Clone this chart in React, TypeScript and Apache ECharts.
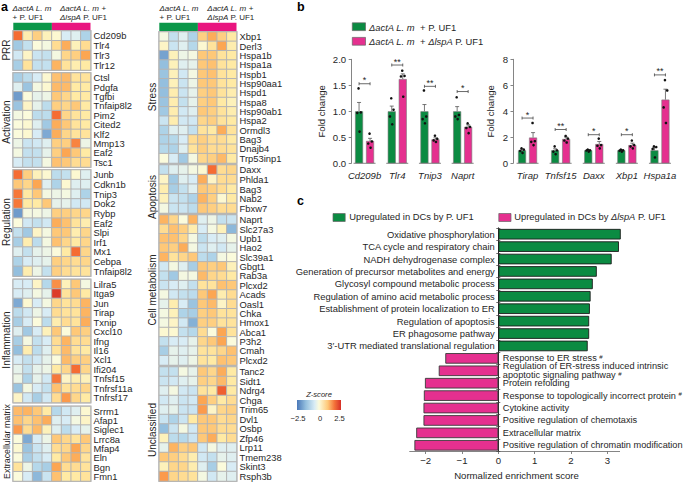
import React, { useEffect, useRef } from "react";
import * as echarts from "echarts";

const FONT = "Liberation Sans";
const GREEN = "#0b8b42";
const PINK = "#e5308f";
const TEXT = "#262626";

const prrGenes = ["Cd209b", "Tlr4", "Tlr3", "Tlr12"];
const prrValues = [
  [2.0, 0.4, 0.9, 0.3, 0.1, -0.5, -0.4, -1.1],
  [-1.3, -0.8, 0, -0.1, 0.7, 1.4, 0.3, 0.7],
  [-0.6, 0.2, -0.7, -0.8, -0.1, 0.8, 0.9, 1.5],
  [-1.2, 0.6, -0.8, -0.8, 1.3, 0.6, 0.4, 0.5],
];
const activationGenes = ["Ctsl", "Pdgfa", "Tgfbi", "Tnfaip8l2", "Pim2", "Cited2", "Klf2", "Mmp13", "Eaf2", "Tsc1"];
const activationValues = [
  [-1.2, -0.9, -0.5, 0.1, 1.1, 1.2, 0.6, 0.6],
  [-0.4, -1.4, -0.1, 0.1, 1.2, 1.2, 0.5, 0.5],
  [-2.0, 0, -0.3, -0.2, 1.0, 0.8, 0.5, 0.5],
  [-1.4, 0.2, -0.3, -0.9, 0.9, 0.8, 1.0, 0.5],
  [-0.1, 0, -0.9, -0.9, 2.0, 0.8, 0.6, 0.5],
  [0, 0.1, -0.4, -1.3, 1.4, 1.0, 0.6, 0.5],
  [0, 0.1, -0.5, -1.8, 1.4, 0.8, 0.6, 0.6],
  [-0.2, -0.7, -0.6, -0.4, 0.9, 0.9, 1.8, -0.2],
  [-0.1, -0.8, -0.8, -0.3, 0.9, 1.5, 1.0, 0.5],
  [-0.5, -0.8, -0.8, -0.1, 1.1, 1.0, 0.7, 0.7],
];
const regulationGenes = ["Junb", "Cdkn1b", "Tnip3", "Dok2", "Rybp", "Eaf2", "Slpi", "Irf1", "Mx1", "Cebpa", "Tnfaip8l2"];
const regulationValues = [
  [2.0, 0.9, 0.3, 0.1, -0.9, -0.8, 0.1, -0.4],
  [1.0, 0.8, 1.5, -0.4, -1.1, 0.1, -0.4, -0.4],
  [1.9, 0.5, 1.0, -0.1, -0.2, -0.1, -0.4, -1.1],
  [1.9, 0.5, 0.5, 1.0, -0.3, -0.3, -0.6, -0.6],
  [-2.0, -0.1, -0.1, -0.2, 0.9, 0.9, 0.8, 0.8],
  [0, -0.6, -0.8, -0.6, 1.4, 1.1, 0.6, 0.4],
  [-0.8, -1.3, 0.2, -0.1, 1.0, 1.0, 0.4, 0.8],
  [-1.2, 0.4, -0.9, -0.1, 1.1, 0.8, 0.5, 0.8],
  [-0.4, -0.8, -0.3, -0.2, 0, 0.5, 2.0, 0.8],
  [-1.1, -0.5, -0.4, -0.3, 0.9, 0.8, 0.7, 0.8],
  [-1.5, 0.4, -0.2, -0.8, 0.9, 0.7, 0.6, 0.6],
];
const inflammationGenes = ["Lilra5", "Itga9", "Jun", "Tirap", "Txnip", "Cxcl10", "Ifng", "Il16", "Xcl1", "Ifi204", "Tnfsf15", "Tnfrsf11a", "Tnfrsf17"];
const inflammationValues = [
  [-0.5, -0.5, 0.2, -1.0, 1.7, 0.3, 1.0, -0.1],
  [-0.5, -0.4, -0.1, -0.3, 2.4, 0.6, 1.0, 0.5],
  [-1.8, 0.1, -0.5, -0.1, 0.8, 0.6, 0.7, 1.3],
  [-0.9, -0.6, -0.2, -0.5, 0.7, 0.6, 0.6, 1.3],
  [-1.2, -0.5, 0, -0.9, 0.4, 0.7, 0.6, 1.4],
  [-0.4, -1.3, -0.5, 0.3, 1.0, 0, 1.0, 0.9],
  [-1.2, -0.1, -0.8, -0.5, 0.7, 1.3, 0.7, 0.7],
  [-1.5, 0.4, -0.9, -0.4, 0.6, 1.2, 0.6, 0.5],
  [-0.5, -0.8, -0.6, -0.3, 0, 1.2, 0.9, 0.9],
  [-0.3, -0.8, -0.3, -0.2, 0.5, 0.8, 2.0, 0.8],
  [-0.2, -1.1, -0.3, -0.6, 1.9, 0.2, 0.4, 0.3],
  [-1.4, -0.1, -0.5, -0.8, 1.1, 0.6, 0.7, 0.8],
  [0.2, -0.6, -1.2, -0.6, 0.7, 1.6, 0.8, 0.5],
];
const matrixGenes = ["Srrm1", "Afap1", "Siglec1", "Lrrc8a", "Mfap4", "Eln", "Bgn", "Fmn1"];
const matrixValues = [
  [1.2, 1.3, 1.0, 0.5, -1.0, -0.6, -0.4, 0.1],
  [1.1, 0.8, 1.1, 1.4, -0.4, -0.5, -0.1, 0.2],
  [1.6, 0.7, 1.2, 0.3, -0.4, -0.9, -0.5, -0.3],
  [0, -1.8, -0.5, -0.2, 1.0, 0.8, 0.6, 1.0],
  [0.1, -1.4, -0.7, -0.4, 0.7, 0.8, 1.5, 0.8],
  [0, -1.2, -0.8, -0.5, 0.5, 1.0, 1.4, 0.6],
  [0.6, -0.2, -1.0, -1.2, 1.5, 0.7, 0.7, 0.6],
  [0, -0.5, -1.6, -0.7, 1.1, 0.5, 0.5, 0.6],
];
const stressGenes = ["Xbp1", "Derl3", "Hspa1b", "Hspa1a", "Hspb1", "Hsp90aa1", "Hspd1", "Hspa8", "Hsp90ab1", "Hspa2", "Ormdl3", "Bag3", "Dnajb4", "Trp53inp1"];
const stressValues = [
  [-0.1, -0.8, -0.4, -1.1, 0.9, 1.4, 0.9, 0.5],
  [0.2, -0.7, -0.4, -1.0, 0.1, 0.6, 1.5, 0.4],
  [-1.9, 0.3, -0.2, -0.1, 1.0, 1.0, 0.6, 0.5],
  [-1.5, 0.3, -0.4, -0.3, 1.0, 1.1, 0.6, 0.5],
  [-1.4, 0.3, -0.6, -0.1, 1.0, 1.1, 0.6, 0.5],
  [-1.5, 0.3, -0.7, -0.2, 1.0, 1.0, 0.6, 0.5],
  [-1.5, 0.4, -0.7, -0.3, 0.9, 1.0, 0.6, 0.4],
  [-1.4, 0.4, -0.8, -0.3, 0.9, 1.0, 0.5, 0.3],
  [-1.3, 0.4, -0.6, -0.4, 1.0, 0.9, 0.6, 0.4],
  [-0.7, 0.4, -0.6, -0.6, 0.8, 0.9, 0.6, 0.5],
  [-1.1, -0.4, -0.4, -0.8, 0.6, 0.5, 1.4, 0.6],
  [-1.1, -1.0, -0.5, 0.7, 0.9, 0.7, 0.7, 0.5],
  [-1.0, -1.1, -0.4, 0.6, 0.9, 0.7, 0.7, 0.6],
  [0, -0.5, -1.3, -0.1, 0.8, 0.9, 1.2, 0.5],
];
const apoptosisGenes = ["Daxx", "Phlda1", "Bag3", "Nab2", "Fbxw7"];
const apoptosisValues = [
  [-0.8, -0.4, -0.3, -0.1, 0.1, 2.0, 0.7, 0.8],
  [0.2, -1.3, -0.4, -0.5, 1.4, 0.2, 0.7, 0.7],
  [0.4, -1.2, -0.8, -0.4, 1.0, 0.9, 0.7, 0.5],
  [0.3, -0.7, -0.8, -1.1, 1.3, 0.9, 0.1, 0.5],
  [-0.1, -0.7, -0.7, -0.9, 1.0, 0.9, 0.7, 0.7],
];
const metabolismGenes = ["Naprt", "Slc27a3", "Upb1", "Hao2", "Slc39a1", "Gbgt1", "Rab3a", "Plcxd2", "Acads", "Oasl1", "Chka", "Hmox1", "Abca1", "P3h2", "Cmah", "Plcxd2"];
const metabolismValues = [
  [1.3, 0.8, 0, 1.3, -0.4, -0.2, -0.8, -0.7],
  [0.7, 1.1, 0.9, 0.4, -0.5, -0.1, 0.3, -1.6],
  [1.1, 1.1, 0.8, -0.1, -0.9, -0.5, -0.4, -0.1],
  [1.0, 0.9, 1.4, -0.1, -0.7, -0.4, -0.6, -0.3],
  [1.3, 0.6, 0.8, 1.0, -0.9, -1.1, -0.1, 0],
  [-0.6, -0.1, -0.4, -1.2, 1.0, 0.9, 1.0, 0.3],
  [-0.8, -1.3, -0.1, -0.1, 1.2, 0.8, 0.7, 0.5],
  [-0.7, -0.5, -0.4, -0.8, 0.6, 0.6, 1.1, 1.0],
  [-0.1, -0.6, -0.8, -0.9, 1.0, 1.5, 0.4, 0.7],
  [-0.3, 0.4, -0.5, -1.4, 1.0, 1.2, 0.2, 0.7],
  [-0.1, 0.3, -1.1, -1.2, 0.9, 1.0, 0.6, 0.6],
  [-0.1, 0.2, -0.6, -1.7, 0.9, 0.9, 0.6, 0.6],
  [0.1, 0.1, -0.8, -1.0, 0.7, 0, 1.5, 0.6],
  [-0.8, -0.5, -0.5, -0.3, 0.8, 1.0, 1.5, 0],
  [-1.2, -0.3, -0.4, -0.3, 0.6, 0.6, 0.8, 1.1],
  [-0.5, -0.3, -0.4, -0.2, 0.6, 0.5, 1.1, 1.0],
];
const unclassifiedGenes = ["Tanc2", "Sidt1", "Ndrg4", "Chga", "Trim65", "Dvl1", "Osbp", "Zfp46", "Lrp11", "Tmem238", "Skint3", "Rsph3b"];
const unclassifiedValues = [
  [-0.8, -0.8, -0.1, -0.3, 1.0, 0.8, 1.4, 0.5],
  [-0.7, -0.6, -0.4, -0.3, 0.9, 0.8, 1.2, 0.5],
  [-0.4, -0.1, -0.6, -0.7, 0.6, 0.5, 2.1, 0.5],
  [-0.6, -0.4, -0.7, -0.6, 1.5, 0.9, 0.5, 0.7],
  [-0.4, -0.3, -0.7, -0.7, 1.6, 0.2, 0.8, 0.9],
  [-0.7, -1.1, -0.7, 0.5, 1.0, 1.0, 0.7, 0.8],
  [-1.5, -0.7, -0.1, -0.6, 1.0, 1.0, 0.7, 0.7],
  [0.3, -0.9, -1.0, -0.7, 1.0, 1.4, 0.5, 0.7],
  [-0.3, 1.3, 0.9, 1.0, -0.6, -0.1, -0.4, -0.4],
  [1.0, 0.9, 0.7, 0.4, -0.6, -0.8, -0.3, -0.4],
  [0.3, 0.8, 0.8, 0.4, -0.4, -1.2, 0, -0.5],
  [1.6, 0.8, 0.7, 0.6, -0.1, -0.6, -0.3, -0.4],
];

const leftGenes = ["Cd209b", "Tlr4", "Tnip3", "Naprt"];
const leftGreenMeans = [1.0, 1.0, 1.0, 1.0];
const leftPinkMeans = [0.43, 1.62, 0.46, 0.7];
const leftGreenErr = [0.17, 0.1, 0.13, 0.09];
const leftPinkErr = [0.05, 0.1, 0.03, 0.04];
const leftGreenDots = [[1.44, 0.98, 0.97, 0.61], [1.25, 1.03, 0.9, 0.75], [1.4, 0.9, 0.85, 0.77], [1.27, 0.93, 0.9, 0.85]];
const leftPinkDots = [[0.57, 0.42, 0.38, 0.3], [1.78, 1.68, 1.67, 1.28], [0.53, 0.47, 0.44, 0.41], [0.77, 0.7, 0.68, 0.58]];
const leftBrackets = [1.53, 1.89, 1.48, 1.38];
const leftStars = ["*", "**", "**", "*"];

const rightGenes = ["Tirap", "Tnfsf15", "Daxx", "Xbp1", "Hspa1a"];
const rightGreenMeans = [1.0, 1.0, 1.0, 1.0, 1.0];
const rightPinkMeans = [1.98, 1.87, 1.48, 1.4, 4.9];
const rightGreenErr = [0.1, 0.12, 0.05, 0.05, 0.2];
const rightPinkErr = [0.38, 0.15, 0.2, 0.15, 0.8];
const rightGreenDots = [[1.15, 1.05, 0.95, 0.8], [1.3, 1.0, 0.9, 0.7], [1.05, 1.0, 0.98, 0.9], [1.05, 1.0, 0.97, 0.9], [1.3, 1.25, 1.1, 0.45]];
const rightPinkDots = [[3.1, 1.7, 1.65, 1.4], [2.1, 1.9, 1.75, 1.6], [1.9, 1.4, 1.35, 1.15], [1.75, 1.4, 1.3, 1.15], [6.4, 5.6, 4.3, 3.1]];
const rightBrackets = [3.48, 2.6, 2.2, 2.2, 6.8];
const rightStars = ["*", "**", "*", "*", "**"];

const upTerms = [
  "Oxidative phosphorylation",
  "TCA cycle and respiratory chain",
  "NADH dehydrogenase complex",
  "Generation of precursor metabolites and energy",
  "Glycosyl compound metabolic process",
  "Regulation of amino acid metabolic process",
  "Establishment of protein localization to ER",
  "Regulation of apoptosis",
  "ER phagosome pathway",
  "3′-UTR mediated translational regulation",
];
const upScores = [3.37, 3.32, 3.12, 2.71, 2.6, 2.54, 2.52, 2.5, 2.5, 2.46];
const downTerms = [
  "Response to ER stress #",
  "Regulation of ER-stress induced intrinsic\napoptotic signaling pathway #",
  "Protein refolding",
  "Response to topologically incorrect protein #",
  "Cytokine activity",
  "Positive regulation of chemotaxis",
  "Extracellular matrix",
  "Positive regulation of chromatin modification",
];
const downScores = [-1.46, -1.64, -2.02, -2.05, -2.06, -2.06, -2.26, -2.31];
const nesTicks = [-2, -1, 0, 1, 2, 3];

const heatBlocks = [
  { genes: prrGenes, values: prrValues, left: 13.3, top: 31, bottom: 70 },
  { genes: activationGenes, values: activationValues, left: 13.3, top: 73, bottom: 167 },
  { genes: regulationGenes, values: regulationValues, left: 13.3, top: 170, bottom: 276 },
  { genes: inflammationGenes, values: inflammationValues, left: 13.3, top: 279.5, bottom: 402.5 },
  { genes: matrixGenes, values: matrixValues, left: 13.3, top: 406.5, bottom: 481 },
  { genes: stressGenes, values: stressValues, left: 159.3, top: 32, bottom: 163 },
  { genes: apoptosisGenes, values: apoptosisValues, left: 159.3, top: 165, bottom: 213 },
  { genes: metabolismGenes, values: metabolismValues, left: 159.3, top: 215, bottom: 365 },
  { genes: unclassifiedGenes, values: unclassifiedValues, left: 159.3, top: 367, bottom: 481 },
];

const sideLabels = [
  ["PRR", 6.5, 50, 10], ["Activation", 6.5, 122, 10], ["Regulation", 6.5, 222, 10], ["Inflammation", 6.5, 340, 10], ["Extracellular matrix", 6.5, 441.5, 8.8],
  ["Stress", 152.5, 97, 10], ["Apoptosis", 152.5, 197, 10], ["Cell metabolism", 152.5, 290, 10], ["Unclassified", 152.5, 430, 10],
];

function buildOption() {
  const grids: any[] = [];
  const xAxes: any[] = [];
  const yAxes: any[] = [];
  const series: any[] = [];
  const heatIdx: number[] = [];

  heatBlocks.forEach((b, i) => {
    grids.push({ outerBoundsMode: "none", show: true, borderColor: "#b4b4b4", borderWidth: 2, left: b.left, top: b.top, width: 77.2, height: b.bottom - b.top });
    xAxes.push({ type: "category", gridIndex: i, data: [0, 1, 2, 3, 4, 5, 6, 7], show: false });
    yAxes.push({
      type: "category", gridIndex: i, data: b.genes, inverse: true, position: "right",
      axisLine: { show: false }, axisTick: { show: false },
      axisLabel: { interval: 0, margin: 3, fontFamily: FONT, fontSize: 9.4, color: TEXT },
    });
    const data: number[][] = [];
    b.values.forEach((row, r) => row.forEach((v, c) => data.push([c, r, v])));
    heatIdx.push(series.length);
    series.push({
      type: "heatmap", xAxisIndex: i, yAxisIndex: i, data,
      itemStyle: { borderColor: "#b4b4b4", borderWidth: 1 },
      emphasis: { disabled: true },
    });
  });

  const addPanel = (
    left: number, width: number, axisOffset: number, genes: string[], max: number, interval: number,
    nameGap: number, gm: number[], pm: number[], ge: number[], pe: number[],
    gd: number[][], pd: number[][], br: number[], st: string[],
  ) => {
    const idx = grids.length;
    grids.push({ outerBoundsMode: "none", left, top: 59.3, width, height: 104 });
    xAxes.push({
      type: "category", gridIndex: idx, data: genes,
      axisLine: { show: false }, axisTick: { show: false },
      axisLabel: { interval: 0, margin: 7, fontFamily: FONT, fontSize: 9.5, fontStyle: "italic", color: TEXT },
    });
    yAxes.push({
      type: "value", gridIndex: idx, min: 0, max, interval, offset: axisOffset,
      name: "Fold change", nameLocation: "middle", nameGap, nameTextStyle: { fontFamily: FONT, fontSize: 9.5, color: TEXT },
      splitLine: { show: false },
      axisLine: { show: true, lineStyle: { color: "#666", width: 0.8 } },
      axisTick: { show: true, length: 2.5, lineStyle: { color: "#666", width: 0.8 } },
      axisLabel: { margin: 5, fontFamily: FONT, fontSize: 9.6, color: TEXT, formatter: (v: number) => (interval < 1 ? v.toFixed(1) : String(v)) },
    });
    const barStyle = { borderColor: "#777", borderWidth: 0.6 };
    series.push(
      { type: "bar", xAxisIndex: idx, yAxisIndex: idx, data: gm, barWidth: 8, barGap: "37.5%", itemStyle: { color: GREEN, ...barStyle } },
      { type: "bar", xAxisIndex: idx, yAxisIndex: idx, data: pm, barWidth: 8, barGap: "37.5%", itemStyle: { color: PINK, ...barStyle } },
    );
    const errData: number[][] = [];
    gm.forEach((m, i) => { errData.push([i, -1, m, ge[i]]); errData.push([i, 1, pm[i], pe[i]]); });
    series.push({
      type: "custom", xAxisIndex: idx, yAxisIndex: idx, data: errData, encode: { x: 0, y: 2 }, silent: true, z: 3,
      renderItem: (_p: any, api: any) => {
        const c = api.coord([api.value(0), api.value(2)]);
        const t = api.coord([api.value(0), api.value(2) + api.value(3)]);
        const x = c[0] + api.value(1) * 5.5;
        const stroke = { stroke: "#555", lineWidth: 0.8 };
        return {
          type: "group",
          children: [
            { type: "line", shape: { x1: x, y1: c[1], x2: x, y2: t[1] }, style: stroke },
            { type: "line", shape: { x1: x - 2, y1: t[1], x2: x + 2, y2: t[1] }, style: stroke },
          ],
        };
      },
    });
    const dotData: number[][] = [];
    gd.forEach((vals, i) => vals.forEach((v, k) => dotData.push([i, -1, v, k])));
    pd.forEach((vals, i) => vals.forEach((v, k) => dotData.push([i, 1, v, k])));
    const jitter = [-0.5, 1.8, -1.8, 0.5];
    series.push({
      type: "custom", xAxisIndex: idx, yAxisIndex: idx, data: dotData, encode: { x: 0, y: 2 }, silent: true, z: 4,
      renderItem: (_p: any, api: any) => {
        const c = api.coord([api.value(0), api.value(2)]);
        return {
          type: "circle",
          shape: { cx: c[0] + api.value(1) * 5.5 + jitter[api.value(3)], cy: c[1], r: 1.3 },
          style: { fill: "#111" },
        };
      },
    });
    series.push({
      type: "custom", xAxisIndex: idx, yAxisIndex: idx, data: br.map((v, i) => [i, v]), encode: { x: 0, y: 1 }, silent: true, z: 4,
      renderItem: (p: any, api: any) => {
        const c = api.coord([api.value(0), api.value(1)]);
        const stroke = { stroke: "#444", lineWidth: 0.8 };
        return {
          type: "group",
          children: [
            { type: "line", shape: { x1: c[0] - 5.5, y1: c[1], x2: c[0] + 5.5, y2: c[1] }, style: stroke },
            { type: "line", shape: { x1: c[0] - 5.5, y1: c[1] - 1.5, x2: c[0] - 5.5, y2: c[1] + 1.5 }, style: stroke },
            { type: "line", shape: { x1: c[0] + 5.5, y1: c[1] - 1.5, x2: c[0] + 5.5, y2: c[1] + 1.5 }, style: stroke },
            { type: "text", style: { text: st[p.dataIndex], x: c[0], y: c[1] - 3.5, fill: TEXT, align: "center", verticalAlign: "middle", font: `9px ${FONT}` } },
          ],
        };
      },
    });
    series.push({
      type: "custom", xAxisIndex: idx, yAxisIndex: idx, data: genes.map((_, i) => [i, 0]), encode: { x: 0, y: 1 }, silent: true, z: 2,
      renderItem: (_p: any, api: any) => {
        const c = api.coord([api.value(0), 0]);
        return { type: "line", shape: { x1: c[0] - 11, y1: c[1], x2: c[0] + 11, y2: c[1] }, style: { stroke: "#666", lineWidth: 0.8 } };
      },
    });
  };

  addPanel(348.2, 130.8, -3, leftGenes, 2, 0.5, 25, leftGreenMeans, leftPinkMeans, leftGreenErr, leftPinkErr, leftGreenDots, leftPinkDots, leftBrackets, leftStars);
  addPanel(511, 165.5, -2, rightGenes, 8, 2, 18, rightGreenMeans, rightPinkMeans, rightGreenErr, rightPinkErr, rightGreenDots, rightPinkDots, rightBrackets, rightStars);

  // Panel c: zero at x = 498.3, 36.33 px per unit
  const ci = grids.length;
  const allTerms = [...upTerms, ...downTerms];
  grids.push({ outerBoundsMode: "none", left: 407.5, top: 228, width: 218, height: 223.5 });
  xAxes.push({
    type: "value", gridIndex: ci, min: -2.5, max: 3.5,
    name: "Normalized enrichment score", nameLocation: "middle", nameGap: 19,
    nameTextStyle: { fontFamily: FONT, fontSize: 9.6, color: TEXT },
    splitLine: { show: false },
    axisLine: { show: false, onZero: false },
    axisTick: { show: true, length: 2.5, customValues: nesTicks, lineStyle: { color: "#666", width: 0.8 } },
    axisLabel: {
      customValues: nesTicks, margin: 4, fontFamily: FONT, fontSize: 9.6, color: TEXT,
      formatter: (v: number) => String(v).replace("-", "\u2212"),
    },
  });
  const catAxis = (pos: string, offset: number, size: number, fmtShow: (i: number) => boolean) => ({
    type: "category", gridIndex: ci, data: allTerms, inverse: true, position: pos, offset,
    axisLine: { show: true, onZero: false, lineStyle: { color: "#222", width: 0.8 } },
    axisTick: { show: true, length: 2, lineStyle: { color: "#444", width: 0.8 } },
    axisLabel: {
      interval: 0, margin: pos === "left" ? 3.5 : 4.5, fontFamily: FONT, fontSize: size, color: TEXT, lineHeight: 9.2,
      formatter: (v: string, i: number) => {
        if (!fmtShow(i)) return "";
        return v.endsWith("#")
          ? v.slice(0, -1).replace(/^(.*)$/gm, "{t|$1}") + "{s|#}"
          : `{t|${v}}`;
      },
      rich: {
        t: { fontFamily: FONT, fontSize: size, color: TEXT, lineHeight: 9.2 },
        s: { fontFamily: FONT, fontSize: 6, color: TEXT, verticalAlign: "top", lineHeight: 9.2 },
      },
    },
  });
  const leftY = yAxes.length;
  yAxes.push(catAxis("left", -90.8, 9.4, (i) => i < upTerms.length));
  yAxes.push(catAxis("right", -127.2, 9.2, (i) => i >= upTerms.length));
  series.push({
    type: "bar", xAxisIndex: ci, yAxisIndex: leftY, barWidth: 10.6,
    itemStyle: { color: GREEN, borderColor: "#1c1c1c", borderWidth: 0.9 },
    data: [...upScores, ...downScores.map(() => "-")],
  });
  series.push({
    type: "bar", xAxisIndex: ci, yAxisIndex: leftY + 1, barWidth: 10.6,
    itemStyle: { color: PINK, borderColor: "#3a3a3a", borderWidth: 0.9 },
    data: [...upScores.map(() => "-"), ...downScores],
  });

  const text = (x: number, y: number, t: string, size: number, extra: any = {}) => ({
    type: "text", x, y, silent: true,
    style: { text: t, font: `${size}px ${FONT}`, fill: TEXT, verticalAlign: "middle", ...extra },
  });
  const hdrRich = { i: { fontStyle: "italic", fontFamily: FONT, fontSize: 8, fill: TEXT }, n: { fontFamily: FONT, fontSize: 8, fill: TEXT } };
  const header = (x: number, l1: string, l2: string) => [
    text(x, 8, l1, 8, { rich: hdrRich }),
    text(x, 17.2, l2, 8, { rich: hdrRich }),
  ];
  const legRich = { i: { fontStyle: "italic", fontFamily: FONT, fontSize: 9.4, fill: TEXT }, n: { fontFamily: FONT, fontSize: 9.4, fill: TEXT } };
  const swatch = (x: number, y: number, w: number, h: number, fill: string) => ({
    type: "rect", silent: true, shape: { x, y, width: w, height: h }, style: { fill, stroke: "#666", lineWidth: 0.7 },
  });
  const letter = (x: number, y: number, t: string) => text(x, y, t, 12.5, { font: `bold 12.5px ${FONT}`, fill: "#000" });
  const graphic: any[] = [
    letter(1, 7, "a"),
    letter(297, 6.5, "b"),
    letter(297, 201, "c"),
    ...header(12.5, "{i|ΔactA L. m}", "{n|+ P. UF1}"),
    ...header(60, "{i|ΔactA L. m}{n| +}", "{i|ΔlspA}{n| P. UF1}"),
    ...header(159.5, "{i|ΔactA L. m}", "{n|+ P. UF1}"),
    ...header(207.3, "{i|ΔactA L. m}{n| +}", "{i|ΔlspA}{n| P. UF1}"),
    { type: "rect", silent: true, shape: { x: 13.3, y: 22.7, width: 38.6, height: 7.5 }, style: { fill: "#0a9749" } },
    { type: "rect", silent: true, shape: { x: 51.9, y: 22.7, width: 38.6, height: 7.5 }, style: { fill: "#e9157f" } },
    { type: "rect", silent: true, shape: { x: 159.3, y: 22.7, width: 38.6, height: 8.3 }, style: { fill: "#0a9749" } },
    { type: "rect", silent: true, shape: { x: 197.9, y: 22.7, width: 38.6, height: 8.3 }, style: { fill: "#e9157f" } },
    swatch(352.3, 22.8, 13.2, 7.8, GREEN),
    swatch(352.3, 37.4, 13.2, 7.8, PINK),
    text(369, 27, "{i|ΔactA L. m}{n|  + P. UF1}", 9.4, { rich: legRich }),
    text(369, 41.5, "{i|ΔactA L. m}{n|  + }{i|ΔlspA}{n| P. UF1}", 9.4, { rich: legRich }),
    swatch(333, 213.5, 12.2, 8, GREEN),
    swatch(498.8, 213.5, 12.2, 8, PINK),
    text(349.3, 217.3, "Upregulated in DCs by P. UF1", 9.35),
    text(514.3, 217.3, "{n|Upregulated in DCs by }{i|ΔlspA}{n| P. UF1}", 9.35, { rich: { i: { fontStyle: "italic", fontFamily: FONT, fontSize: 9.35, fill: TEXT }, n: { fontFamily: FONT, fontSize: 9.35, fill: TEXT } } }),
    text(319, 394.5, "Z-score", 7.6, { align: "center", font: `italic 7.6px ${FONT}` }),
    {
      type: "rect", silent: true, shape: { x: 297, y: 400, width: 44, height: 10 },
      style: {
        fill: new echarts.graphic.LinearGradient(0, 0, 1, 0, [
          { offset: 0, color: "#4a78b8" }, { offset: 0.2, color: "#94bfde" }, { offset: 0.4, color: "#d8ecf5" },
          { offset: 0.5, color: "#fbfbdc" }, { offset: 0.7, color: "#fec878" }, { offset: 0.85, color: "#f4733a" }, { offset: 1, color: "#d62f27" },
        ]),
      },
    },
    text(298, 418, "\u22122.5", 7.6, { align: "center" }),
    text(320, 418, "0", 7.6, { align: "center" }),
    text(339.5, 418, "2.5", 7.6, { align: "center" }),
    { type: "line", silent: true, shape: { x1: 409.3, y1: 451.5, x2: 620, y2: 451.5 }, style: { stroke: "#666", lineWidth: 0.8 } },
    ...sideLabels.map(([t, x, y, s]: any) => ({
      type: "text", x, y, rotation: Math.PI / 2, silent: true,
      style: { text: t, font: `${s}px ${FONT}`, fill: TEXT, align: "center", verticalAlign: "middle" },
    })),
  ];

  return {
    animation: false,
    backgroundColor: "#fff",
    grid: grids,
    xAxis: xAxes,
    yAxis: yAxes,
    visualMap: {
      show: false, min: -2.5, max: 2.5, seriesIndex: heatIdx, dimension: 2,
      inRange: { color: ["#4a78b8", "#6f9bcb", "#94bfde", "#b5d8ea", "#d8ecf5", "#fbfbdc", "#ffeaa4", "#fec878", "#fca652", "#f56c33", "#d62f27"] },
    },
    series,
    graphic,
  };
}

export default function App() {
  const ref = useRef<HTMLDivElement>(null);
  useEffect(() => {
    const chart = echarts.init(ref.current!, undefined, { renderer: "svg" });
    chart.setOption(buildOption());
    return () => chart.dispose();
  }, []);
  return <div ref={ref} style={{ position: "absolute", left: 0, top: 0, width: 685, height: 482 }} />;
}
